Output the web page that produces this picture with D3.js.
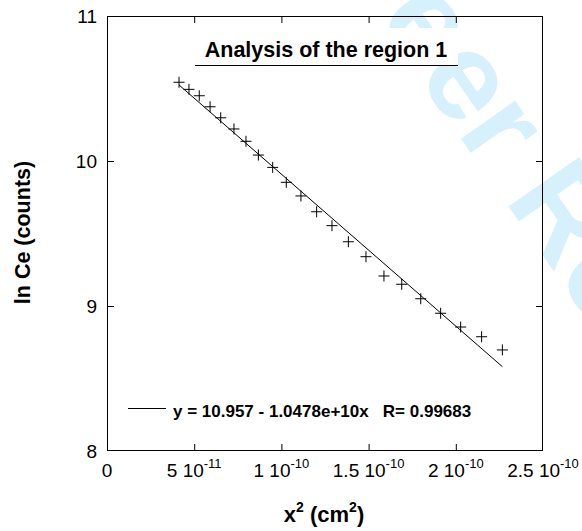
<!DOCTYPE html>
<html>
<head>
<meta charset="utf-8">
<script src="https://cdn.jsdelivr.net/npm/d3@7"></script>
<style>
  html, body { margin: 0; padding: 0; background: #fff; }
  svg { display: block; }
  text { font-family: "Liberation Sans", Arial, Helvetica, sans-serif; }
</style>
</head>
<body>
<svg id="chart" width="582" height="531"></svg>
<script>
// Squared depth x² (cm²) and ln of Ce counts for region 1
const xSquared = [4.13e-11, 4.70e-11, 5.29e-11, 5.91e-11, 6.52e-11, 7.28e-11, 7.97e-11,
                  8.68e-11, 9.50e-11, 10.28e-11, 11.12e-11, 12.02e-11, 12.90e-11, 13.84e-11,
                  14.85e-11, 15.88e-11, 16.90e-11, 17.99e-11, 19.13e-11, 20.28e-11, 21.48e-11,
                  22.67e-11];
const lnCe = [10.543, 10.494, 10.450, 10.374, 10.298, 10.221, 10.136,
              10.041, 9.956, 9.853, 9.759, 9.650, 9.554, 9.443,
              9.340, 9.207, 9.150, 9.050, 8.950, 8.855, 8.788,
              8.697];

// Linear fit y = a + b·x
const fitIntercept = 10.957;
const fitSlope = -1.0478e10;
const fitR = 0.99683;

// Axis ticks
const xTicks = [0, 5e-11, 1e-10, 1.5e-10, 2e-10, 2.5e-10];
const xTickMantissa = ["0", "5", "1", "1.5", "2", "2.5"];
const xTickExponent = ["", "-11", "-10", "-10", "-10", "-10"];
const yTicks = [8, 9, 10, 11];

const titleText = "Analysis of the region 1";
const legendText = "y = 10.957 - 1.0478e+10x   R= 0.99683";

const svg = d3.select("#chart");
const L = 107, R = 543, T = 16, B = 451;

const x = d3.scaleLinear().domain([0, 2.5e-10]).range([L, R]);
const y = d3.scaleLinear().domain([8, 11]).range([B, T]);

// Background watermark text
svg.append("text")
  .attr("transform", "translate(193,-244) rotate(55)")
  .attr("font-size", 125)
  .attr("font-weight", "bold")
  .attr("fill", "#d6f0fc")
  .text("For Peer Review");

// Inner ticks on all four sides
const innerX = xTicks.slice(1, -1);
const innerY = yTicks.slice(1, -1);
const tickLen = 7;

const axB = svg.append("g").attr("transform", `translate(0,${B})`)
  .call(d3.axisBottom(x).tickValues(innerX).tickSizeInner(-tickLen).tickSizeOuter(0).tickFormat(""));
const axT = svg.append("g").attr("transform", `translate(0,${T})`)
  .call(d3.axisTop(x).tickValues(innerX).tickSizeInner(-tickLen).tickSizeOuter(0).tickFormat(""));
const axL = svg.append("g").attr("transform", `translate(${L},0)`)
  .call(d3.axisLeft(y).tickValues(innerY).tickSizeInner(-tickLen).tickSizeOuter(0).tickFormat(""));
const axR = svg.append("g").attr("transform", `translate(${R},0)`)
  .call(d3.axisRight(y).tickValues(innerY).tickSizeInner(-tickLen).tickSizeOuter(0).tickFormat(""));
[axB, axT, axL, axR].forEach(g => {
  g.select(".domain").remove();
  g.selectAll("line").attr("stroke", "#000").attr("stroke-width", 1);
});

// Frame
svg.append("rect")
  .attr("x", L + 0.5).attr("y", T + 0.5)
  .attr("width", R - L - 1).attr("height", B - T - 1)
  .attr("fill", "none").attr("stroke", "#000").attr("stroke-width", 1);

// Y tick labels
svg.append("g").selectAll("text").data(yTicks).join("text")
  .attr("x", L - 10).attr("y", d => y(d) + 7)
  .attr("text-anchor", "end")
  .attr("font-size", 19)
  .attr("fill", "#000")
  .text(d => d);

// X tick labels with exponent superscripts
const xl = svg.append("g").selectAll("text").data(xTicks).join("text")
  .attr("x", (d) => x(d)).attr("y", B + 26)
  .attr("text-anchor", "middle")
  .attr("font-size", 19)
  .attr("fill", "#000");
xl.each(function (d, i) {
  const t = d3.select(this);
  if (xTickExponent[i]) {
    t.append("tspan").text(xTickMantissa[i] + " 10");
    t.append("tspan").attr("dy", -9).attr("font-size", 13).text(xTickExponent[i]);
  } else {
    t.text(xTickMantissa[i]);
  }
});

// Axis titles
const xt = svg.append("text")
  .attr("x", (L + R) / 2 - 1).attr("y", 522)
  .attr("text-anchor", "middle")
  .attr("font-size", 22).attr("font-weight", "bold");
xt.append("tspan").text("x");
xt.append("tspan").attr("dy", -10).attr("font-size", 14).text("2");
xt.append("tspan").attr("dy", 10).text(" (cm");
xt.append("tspan").attr("dy", -10).attr("font-size", 14).text("2");
xt.append("tspan").attr("dy", 10).text(")");

svg.append("text")
  .attr("transform", `translate(30,${(T + B) / 2 - 1}) rotate(-90)`)
  .attr("text-anchor", "middle")
  .attr("font-size", 21.5).attr("font-weight", "bold")
  .text("ln Ce (counts)");

// Title on a white box with underline
svg.append("rect")
  .attr("x", 195).attr("y", 28).attr("width", 263).attr("height", 37)
  .attr("fill", "#fff");
svg.append("text")
  .attr("x", 326).attr("y", 57)
  .attr("text-anchor", "middle")
  .attr("font-size", 21.5).attr("font-weight", "bold")
  .text(titleText);
svg.append("line")
  .attr("x1", 195).attr("x2", 458).attr("y1", 65.5).attr("y2", 65.5)
  .attr("stroke", "#000").attr("stroke-width", 1.2);

// Fit line across the data range
const xExt = d3.extent(xSquared);
svg.append("line")
  .attr("x1", x(xExt[0])).attr("y1", y(fitIntercept + fitSlope * xExt[0]))
  .attr("x2", x(xExt[1])).attr("y2", y(fitIntercept + fitSlope * xExt[1]))
  .attr("stroke", "#000").attr("stroke-width", 1);

// Data markers (+)
const m = 5.5;
const pts = svg.append("g").selectAll("g").data(d3.zip(xSquared, lnCe)).join("g")
  .attr("transform", d => `translate(${x(d[0])},${y(d[1])})`);
pts.append("line").attr("x1", -m).attr("x2", m).attr("y1", 0).attr("y2", 0)
  .attr("stroke", "#000").attr("stroke-width", 1);
pts.append("line").attr("x1", 0).attr("x2", 0).attr("y1", -m).attr("y2", m)
  .attr("stroke", "#000").attr("stroke-width", 1);

// Legend
svg.append("line")
  .attr("x1", 128).attr("x2", 166).attr("y1", 408.5).attr("y2", 408.5)
  .attr("stroke", "#000").attr("stroke-width", 1);
svg.append("text")
  .attr("x", 173).attr("y", 417)
  .attr("font-size", 17).attr("font-weight", "bold")
  .attr("xml:space", "preserve")
  .style("white-space", "pre")
  .text(legendText);
</script>
</body>
</html>
